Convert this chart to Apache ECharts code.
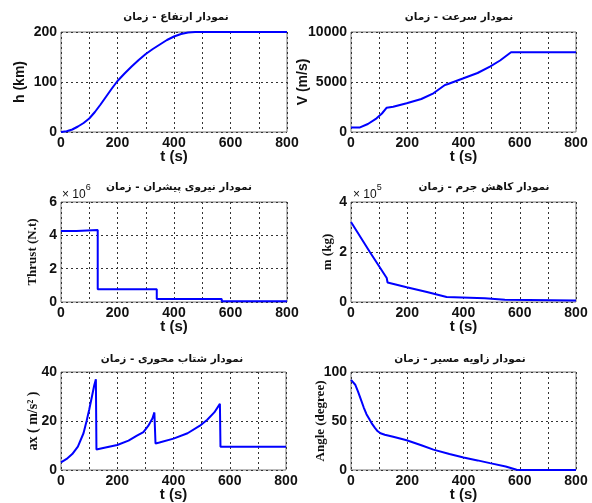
<!DOCTYPE html>
<html>
<head>
<meta charset="utf-8">
<script src="https://cdn.jsdelivr.net/npm/echarts@6/dist/echarts.min.js"></script>
<style>
  html, body { margin: 0; background: #fff; }
  #main { width: 592px; height: 503px; }
</style>
</head>
<body>
<div id="main"></div>
<script>
// ارتفاع - زمان
const hTime = [0, 20, 40, 60, 80, 100, 120, 140, 160, 180, 200, 225, 250, 275, 300, 325, 350, 375, 400, 425, 450, 475, 800]
const hKm = [0, 1.5, 5, 11, 18, 27, 40, 55, 71, 87, 102, 117, 131, 144, 156, 166, 175, 184, 191, 196, 199, 200, 200]
// سرعت - زمان
const vTime = [0, 32, 60, 91, 110, 127, 150, 198, 250, 293, 334, 345, 400, 450, 494, 530, 569, 800]
const vMs = [450, 460, 800, 1370, 1850, 2430, 2530, 2870, 3300, 3870, 4700, 4800, 5370, 5900, 6530, 7150, 7970, 7970]
// نیروی پیشران - زمان
const fTime = [0, 55, 55, 130, 130, 339, 339, 569, 569, 800]
const fThrust = [4.26e6, 4.26e6, 4.32e6, 4.32e6, 0.76e6, 0.76e6, 0.18e6, 0.18e6, 0.04e6, 0.04e6]
// کاهش جرم - زمان
const mTime = [0, 67, 127, 130, 198, 270, 340, 476, 478, 547, 550, 800]
const mKg = [3.2e5, 2.0e5, 0.96e5, 0.78e5, 0.59e5, 0.4e5, 0.2e5, 0.15e5, 0.1e5, 0.09e5, 0.06e5, 0.06e5]
// شتاب محوری - زمان
const aTime = [0, 20, 40, 60, 80, 91, 100, 110, 118, 124, 126, 150, 200, 240, 270, 293, 310, 325, 332, 336, 350, 400, 450, 494, 520, 545, 565, 567, 800]
const aMs2 = [3.1, 4.5, 6.5, 9.5, 15, 20, 24.5, 30, 34.5, 37, 8.4, 9, 10.2, 12, 14, 15.5, 18, 21, 23.5, 10.8, 11.2, 12.8, 15, 18.1, 20.5, 23.5, 27, 9.5, 9.5]
// زاویه مسیر - زمان
const gTime = [0, 5, 15, 25, 35, 45, 55, 65, 75, 85, 95, 105, 120, 150, 198, 250, 293, 350, 400, 450, 494, 550, 589, 600, 800]
const gDeg = [92, 91.5, 87, 80, 72, 64, 57, 52, 47, 43, 39.5, 37.5, 36, 34, 30.3, 25.3, 20.8, 16.3, 12.7, 9.8, 7, 3.5, 0.3, 0, 0]

const titles = [
  'نمودار ارتفاع - زمان',
  'نمودار سرعت - زمان',
  'نمودار نیروی پیشران - زمان',
  'نمودار کاهش جرم - زمان',
  'نمودار شتاب محوری - زمان',
  'نمودار زاویه مسیر - زمان'
]

const sans = 'Liberation Sans, Arial, sans-serif'
const serif = 'Liberation Serif, Times New Roman, serif'

const grids = [
  { left: 61, top: 32, width: 226, height: 100 },
  { left: 351, top: 32, width: 225, height: 100 },
  { left: 61, top: 202, width: 226, height: 100 },
  { left: 351, top: 202, width: 225, height: 100 },
  { left: 61, top: 372, width: 225, height: 100 },
  { left: 351, top: 372, width: 225, height: 100 }
]

const dotted = { show: true, lineStyle: { color: '#333', type: [2, 3], width: 1 } }

function xAx(i) {
  return {
    gridIndex: i,
    type: 'value',
    min: 0,
    max: 800,
    interval: 100,
    name: 't (s)',
    nameLocation: 'middle',
    nameGap: 17,
    nameMoveOverlap: false,
    nameTextStyle: { fontFamily: sans, fontWeight: 'bold', fontSize: 15, color: '#111' },
    axisLine: { show: false },
    axisTick: { show: false },
    axisLabel: {
      margin: 4,
      fontFamily: sans,
      fontWeight: 'bold',
      fontSize: 14,
      color: '#111',
      formatter: v => (v % 200 === 0 ? String(v) : '')
    },
    splitLine: dotted
  }
}

function yAx(i, max, step, name, gap, font, size, scale) {
  return {
    gridIndex: i,
    type: 'value',
    min: 0,
    max: max,
    interval: step,
    name: name,
    nameLocation: 'middle',
    nameRotate: 90,
    nameGap: gap,
    nameMoveOverlap: false,
    nameTextStyle: { fontFamily: font, fontWeight: 'bold', fontSize: size, color: '#111' },
    axisLine: { show: false },
    axisTick: { show: false },
    axisLabel: {
      margin: 4,
      fontFamily: sans,
      fontWeight: 'bold',
      fontSize: 14,
      color: '#111',
      formatter: v => String(v / (scale || 1))
    },
    splitLine: dotted
  }
}

function line(i, t, v) {
  return {
    type: 'line',
    xAxisIndex: i,
    yAxisIndex: i,
    data: t.map((x, k) => [x, v[k]]),
    showSymbol: false,
    silent: true,
    lineStyle: { color: '#0000ff', width: 2 },
    itemStyle: { color: '#0000ff' }
  }
}

const titlePos = [[176, 17], [459, 17], [179, 187], [484, 187], [172, 359], [460, 359]]

const graphics = titles.map((t, i) => ({
  type: 'text',
  x: titlePos[i][0],
  y: titlePos[i][1],
  style: {
    text: t,
    fill: '#111',
    font: 'bold 10.5px DejaVu Sans, sans-serif',
    align: 'center',
    verticalAlign: 'middle'
  }
}))

// × 10^n بالای محور
function expo(x, y, n) {
  return {
    type: 'text',
    x: x,
    y: y,
    style: {
      text: '{a|× 10}{b|' + n + '}',
      rich: {
        a: { fontFamily: sans, fontSize: 12, fill: '#111', padding: [6, 0, 0, 0] },
        b: { fontFamily: sans, fontSize: 9, fill: '#111', verticalAlign: 'top' }
      },
      verticalAlign: 'middle'
    }
  }
}
graphics.push(expo(62, 192, 6))
graphics.push(expo(353, 192, 5))

const chart = echarts.init(document.getElementById('main'))
chart.setOption({
  animation: false,
  backgroundColor: '#fff',
  grid: grids.map(g => Object.assign({ show: true, borderColor: '#777', borderWidth: 1, backgroundColor: '#fff' }, g)),
  xAxis: [0, 1, 2, 3, 4, 5].map(xAx),
  yAxis: [
    yAx(0, 200, 100, 'h (km)', 34, sans, 14),
    yAx(1, 10000, 5000, 'V (m/s)', 41, sans, 14),
    yAx(2, 6e6, 2e6, 'Thrust (N.t)', 22, serif, 13, 1e6),
    yAx(3, 4e5, 2e5, 'm (kg)', 17, serif, 13, 1e5),
    yAx(4, 40, 20, 'ax ( m/s² )', 21, serif, 14),
    yAx(5, 100, 50, 'Angle (degree)', 24, serif, 13)
  ],
  series: [
    line(0, hTime, hKm),
    line(1, vTime, vMs),
    line(2, fTime, fThrust),
    line(3, mTime, mKg),
    line(4, aTime, aMs2),
    line(5, gTime, gDeg)
  ],
  graphic: graphics
})
</script>
</body>
</html>
